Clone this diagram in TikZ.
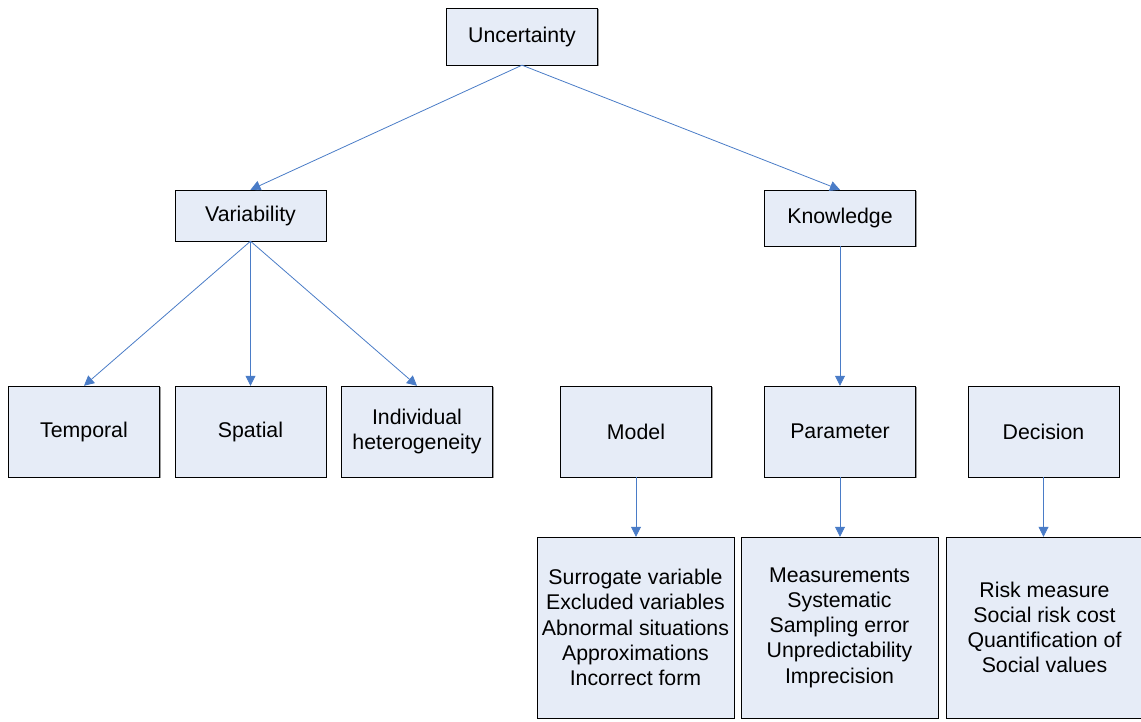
\documentclass[tikz,border=0pt]{standalone}
\usepackage{fontspec}
\setmainfont{Liberation Sans}
\usetikzlibrary{arrows.meta,shadows}

\definecolor{boxfill}{RGB}{230,236,247}
\definecolor{linkblue}{RGB}{74,124,199}

\tikzset{
  box/.style={draw=black,fill=boxfill,align=center,inner sep=0pt,
    font=\fontsize{21.3}{25.2}\selectfont,
    drop shadow={shadow xshift=1pt,shadow yshift=-1pt,fill=gray!80,opacity=1}},
  top/.style={box,minimum width=151pt},
  leaf/.style={box,minimum width=151pt,minimum height=91pt},
  detail/.style={box,minimum width=197pt,minimum height=181pt},
  link/.style={draw=linkblue,line width=0.8pt,-{Triangle[length=10pt,width=10pt]}}
}

\begin{document}
\begin{tikzpicture}[x=1pt,y=-1pt]
\useasboundingbox (0,0) rectangle (1141,722);
% first levels
\node[top,minimum height=57pt] (U) at (522,36.5) {Uncertainty};
\node[top,minimum height=51pt] (V) at (250.5,215.5) {Variability};
\node[top,minimum height=56pt] (K) at (840,218) {Knowledge};
% second level
\node[leaf] (T) at (84,431.5) {Temporal};
\node[leaf] (S) at (250.5,431.5) {Spatial};
\node[leaf] (I) at (417,431.5) {Individual\\heterogeneity};
\node[leaf] (M) at (636,431.5) {Model};
\node[leaf] (P) at (840,431.5) {Parameter};
\node[leaf] (D) at (1043.5,431.5) {Decision};
% details
\node[detail] (Md) at (635.5,627.5) {Surrogate variable\\Excluded variables\\Abnormal situations\\Approximations\\Incorrect form};
\node[detail] (Pd) at (839.5,627.5) {Measurements\\Systematic\\Sampling error\\Unpredictability\\Imprecision};
\node[detail] (Dd) at (1044.5,627.5) {Risk measure\\Social risk cost\\Quantification of\\Social values};
% links
\draw[link] (U.south) -- (V.north);
\draw[link] (U.south) -- (K.north);
\draw[link] (V.south) -- (T.north);
\draw[link] (V.south) -- (S.north);
\draw[link] (V.south) -- (I.north);
\draw[link] (K.south) -- (P.north);
\draw[link] (M.south) -- (M.south |- Md.north);
\draw[link] (P.south) -- (P.south |- Pd.north);
\draw[link] (D.south) -- (D.south |- Dd.north);
\end{tikzpicture}
\end{document}
